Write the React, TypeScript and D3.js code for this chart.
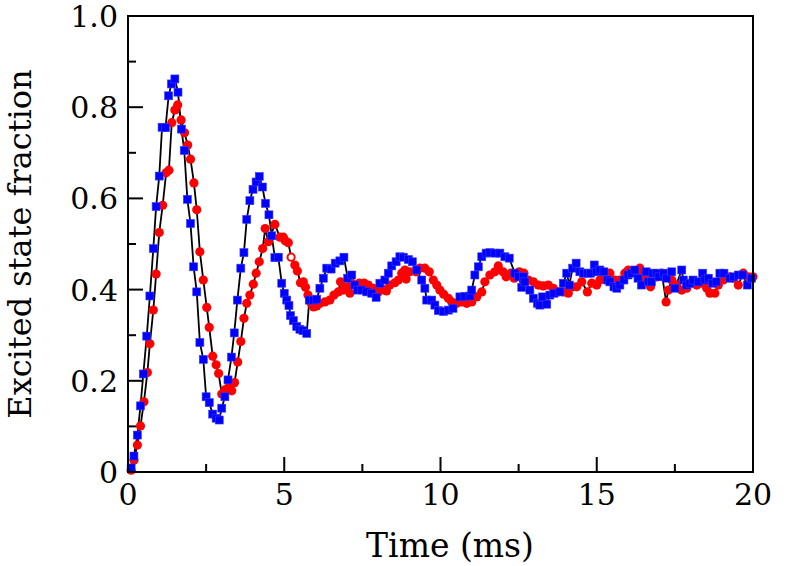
// @ts-nocheck
import * as d3 from "d3";

// blue squares: time (ms) and excited state fraction
const blueTime = [
  0.1, 0.19, 0.3, 0.4, 0.49, 0.6, 0.7, 0.81, 0.9, 1.0, 1.09, 1.2, 1.3, 1.39, 1.5, 1.6, 1.71, 1.8, 1.9, 2.0,
  2.1, 2.2, 2.3, 2.41, 2.5, 2.6, 2.71, 2.82, 2.92, 3.0, 3.1, 3.2, 3.31, 3.4, 3.5, 3.61, 3.71, 3.8, 3.9, 4.0,
  4.1, 4.2, 4.3, 4.4, 4.51, 4.6, 4.7, 4.81, 4.92, 5.0, 5.08, 5.15, 5.2, 5.29, 5.4, 5.5, 5.6, 5.72, 5.8, 5.93,
  6.04, 6.14, 6.25, 6.36, 6.5, 6.63, 6.78, 6.91, 7.03, 7.16, 7.26, 7.34, 7.48, 7.64, 7.8, 7.94, 8.06, 8.22, 8.33, 8.44,
  8.58, 8.7, 8.81, 8.97, 9.1, 9.24, 9.4, 9.5, 9.56, 9.72, 9.82, 9.93, 10.1, 10.25, 10.4, 10.62, 10.78, 10.94, 11.0, 11.1,
  11.21, 11.32, 11.46, 11.58, 11.74, 11.9, 12.06, 12.2, 12.38, 12.5, 12.6, 12.65, 12.7, 12.86, 12.97, 13.1, 13.18, 13.27, 13.4, 13.5,
  13.63, 13.82, 13.93, 14.04, 14.12, 14.23, 14.34, 14.46, 14.57, 14.7, 14.8, 14.92, 15.0, 15.1, 15.23, 15.34, 15.42, 15.55, 15.64, 15.74,
  15.87, 16.0, 16.11, 16.22, 16.32, 16.43, 16.58, 16.65, 16.75, 16.8, 16.92, 16.99, 17.13, 17.24, 17.4, 17.5, 17.72, 17.77, 17.87, 17.98,
  18.08, 18.25, 18.39, 18.46, 18.57, 18.71, 18.82, 18.94, 19.07, 19.26, 19.37, 19.53, 19.67, 19.82, 19.95,
];
const blueValue = [
  0.009, 0.035, 0.081, 0.145, 0.215, 0.298, 0.386, 0.49, 0.582, 0.649, 0.756, 0.755, 0.825, 0.851, 0.862, 0.833, 0.752, 0.705, 0.598, 0.545,
  0.45, 0.395, 0.284, 0.247, 0.165, 0.152, 0.127, 0.118, 0.114, 0.14, 0.165, 0.202, 0.252, 0.305, 0.377, 0.447, 0.481, 0.554, 0.595, 0.62,
  0.636, 0.648, 0.625, 0.589, 0.564, 0.518, 0.47, 0.471, 0.414, 0.392, 0.377, 0.365, 0.343, 0.332, 0.319, 0.313, 0.31, 0.304, 0.377, 0.377,
  0.379, 0.403, 0.425, 0.447, 0.445, 0.458, 0.463, 0.471, 0.425, 0.432, 0.41, 0.399, 0.399, 0.395, 0.392, 0.383, 0.414, 0.421, 0.436, 0.452,
  0.461, 0.472, 0.471, 0.466, 0.461, 0.443, 0.421, 0.403, 0.377, 0.377, 0.366, 0.354, 0.352, 0.355, 0.359, 0.384, 0.385, 0.386, 0.399, 0.432,
  0.45, 0.472, 0.48, 0.481, 0.48, 0.48, 0.472, 0.469, 0.436, 0.428, 0.405, 0.428, 0.417, 0.399, 0.381, 0.37, 0.366, 0.384, 0.368, 0.388,
  0.392, 0.395, 0.414, 0.436, 0.41, 0.447, 0.458, 0.439, 0.436, 0.436, 0.436, 0.454, 0.439, 0.443, 0.439, 0.421, 0.417, 0.406, 0.403, 0.41,
  0.421, 0.432, 0.436, 0.443, 0.425, 0.41, 0.439, 0.417, 0.417, 0.436, 0.436, 0.428, 0.436, 0.425, 0.439, 0.403, 0.443, 0.421, 0.41, 0.414,
  0.421, 0.417, 0.436, 0.421, 0.425, 0.414, 0.417, 0.436, 0.436, 0.425, 0.428, 0.432, 0.432, 0.41, 0.425,
];

// red circles
const redTime = [
  0.1, 0.19, 0.3, 0.4, 0.51, 0.62, 0.7, 0.81, 0.9, 1.0, 1.11, 1.22, 1.31, 1.4, 1.5, 1.59, 1.7, 1.81, 1.91, 2.0,
  2.11, 2.2, 2.3, 2.41, 2.52, 2.6, 2.71, 2.82, 2.9, 3.0, 3.1, 3.21, 3.32, 3.41, 3.51, 3.61, 3.71, 3.8, 3.9, 4.01,
  4.1, 4.2, 4.31, 4.39, 4.49, 4.7, 4.86, 4.97, 5.03, 5.13, 5.22, 5.34, 5.42, 5.52, 5.61, 5.68, 5.76, 5.86, 5.94, 6.04,
  6.14, 6.3, 6.46, 6.59, 6.73, 6.8, 6.89, 7.0, 7.1, 7.16, 7.26, 7.4, 7.56, 7.69, 7.85, 8.01, 8.17, 8.27, 8.38, 8.54,
  8.65, 8.76, 8.86, 8.9, 9.02, 9.21, 9.34, 9.5, 9.64, 9.77, 9.88, 9.98, 10.1, 10.25, 10.36, 10.52, 10.68, 10.84, 11.0, 11.16,
  11.32, 11.42, 11.58, 11.74, 11.85, 12.0, 12.1, 12.25, 12.36, 12.52, 12.67, 12.81, 12.97, 13.13, 13.29, 13.45, 13.61, 13.77, 13.93, 14.09,
  14.23, 14.36, 14.52, 14.7, 14.84, 15.0, 15.1, 15.26, 15.42, 15.58, 15.74, 15.9, 16.01, 16.15, 16.28, 16.38, 16.49, 16.65, 16.72, 16.92,
  17.08, 17.22, 17.29, 17.4, 17.56, 17.72, 17.88, 18.04, 18.2, 18.36, 18.52, 18.62, 18.78, 18.89, 19.05, 19.26, 19.37, 19.53, 19.69, 19.85,
  20.0,
];
const redValue = [
  0.004, 0.026, 0.059, 0.101, 0.154, 0.218, 0.281, 0.355, 0.434, 0.525, 0.585, 0.656, 0.662, 0.766, 0.794, 0.805, 0.772, 0.744, 0.717, 0.686,
  0.634, 0.575, 0.483, 0.421, 0.361, 0.317, 0.254, 0.235, 0.216, 0.171, 0.18, 0.185, 0.178, 0.196, 0.241, 0.286, 0.337, 0.37, 0.388, 0.412,
  0.436, 0.461, 0.49, 0.534, 0.505, 0.543, 0.515, 0.515, 0.507, 0.503, 0.471, 0.454, 0.441, 0.415, 0.417, 0.405, 0.388, 0.37, 0.362, 0.364,
  0.37, 0.373, 0.377, 0.388, 0.395, 0.417, 0.399, 0.406, 0.392, 0.414, 0.41, 0.414, 0.414, 0.41, 0.403, 0.395, 0.4, 0.397, 0.41, 0.415,
  0.421, 0.436, 0.443, 0.423, 0.439, 0.439, 0.447, 0.447, 0.439, 0.421, 0.41, 0.399, 0.39, 0.381, 0.373, 0.37, 0.373, 0.37, 0.373, 0.384,
  0.395, 0.417, 0.432, 0.439, 0.452, 0.439, 0.428, 0.436, 0.425, 0.439, 0.436, 0.421, 0.417, 0.41, 0.408, 0.41, 0.403, 0.395, 0.395, 0.392,
  0.406, 0.406, 0.417, 0.395, 0.414, 0.41, 0.421, 0.428, 0.436, 0.421, 0.421, 0.436, 0.443, 0.439, 0.436, 0.447, 0.428, 0.436, 0.406, 0.428,
  0.436, 0.373, 0.399, 0.421, 0.41, 0.399, 0.403, 0.414, 0.41, 0.414, 0.403, 0.392, 0.392, 0.41, 0.421, 0.428, 0.425, 0.41, 0.436, 0.428,
  0.428,
];
// the one red marker drawn open in the figure
const redOpenIndex = [50];

const xMajor = [0, 5, 10, 15, 20];
const xMinor = [2.5, 7.5, 12.5, 17.5];
const yMajor = [0, 0.2, 0.4, 0.6, 0.8, 1.0];
const yMinor = [0.1, 0.3, 0.5, 0.7, 0.9];
const yLabels = ["0", "0.2", "0.4", "0.6", "0.8", "1.0"];

export default function App() {
  const width = 800;
  const height = 566;
  const marginLeft = 128;
  const marginRight = 47;
  const marginTop = 16;
  const marginBottom = 94;
  const font = "'DejaVu Serif', serif";

  const x = d3.scaleLinear([0, 20], [marginLeft, width - marginRight]);
  const y = d3.scaleLinear([0, 1], [height - marginBottom, marginTop]);

  const blue = blueTime.map((t, i) => [t, blueValue[i]]);
  const red = redTime.map((t, i) => [t, redValue[i]]);

  const line = d3
    .line()
    .x((d) => x(d[0]))
    .y((d) => y(d[1]));

  const sq = 8;
  const x0 = x(0);
  const y0 = y(0);

  return (
    <svg
      width={width}
      height={height}
      style={{ position: "absolute", left: 0, top: 0, background: "white" }}
    >
      {/* connecting lines */}
      <path d={line(red)} fill="none" stroke="black" strokeWidth={1.8} />
      <path d={line(blue)} fill="none" stroke="black" strokeWidth={1.8} />

      <g>
        {red.map((d, i) => {
          const open = redOpenIndex.includes(i);
          return (
            <circle
              key={"r" + i}
              cx={x(d[0])}
              cy={y(d[1])}
              r={open ? 3.6 : 4.6}
              fill={open ? "white" : "#ff0000"}
              stroke={open ? "#ff0000" : "none"}
              strokeWidth={open ? 2 : 0}
            />
          );
        })}
      </g>
      <g>
        {blue.map((d, i) => (
          <rect
            key={"b" + i}
            x={x(d[0]) - sq / 2}
            y={y(d[1]) - sq / 2}
            width={sq}
            height={sq}
            fill="#0000ff"
            stroke="#3a3aff"
            strokeWidth={0.6}
          />
        ))}
      </g>

      {/* frame */}
      <rect
        x={x0}
        y={y(1)}
        width={x(20) - x0}
        height={y0 - y(1)}
        fill="none"
        stroke="black"
        strokeWidth={2}
      />

      {/* ticks, drawn inward */}
      <g stroke="black" strokeWidth={2}>
        {xMajor.map((v) => (
          <line key={"xM" + v} x1={x(v)} x2={x(v)} y1={y0} y2={y0 - 15} />
        ))}
        {xMinor.map((v) => (
          <line key={"xm" + v} x1={x(v)} x2={x(v)} y1={y0} y2={y0 - 8} />
        ))}
        {yMajor.map((v) => (
          <line key={"yM" + v} x1={x0} x2={x0 + 15} y1={y(v)} y2={y(v)} />
        ))}
        {yMinor.map((v) => (
          <line key={"ym" + v} x1={x0} x2={x0 + 8} y1={y(v)} y2={y(v)} />
        ))}
      </g>

      <g fontFamily={font} fontSize={30} fill="black">
        {xMajor.map((v) => (
          <text key={"xl" + v} x={x(v)} y={505} textAnchor="middle">
            {v}
          </text>
        ))}
        {yMajor.map((v, i) => (
          <text key={"yl" + v} x={118} y={y(v) + 11} textAnchor="end">
            {yLabels[i]}
          </text>
        ))}
      </g>

      <text
        x={450}
        y={557}
        textAnchor="middle"
        fontFamily={font}
        fontSize={33}
      >
        Time (ms)
      </text>
      <text
        transform={`translate(31,${(y0 + y(1)) / 2}) rotate(-90)`}
        textAnchor="middle"
        fontFamily={font}
        fontSize={32}
      >
        Excited state fraction
      </text>
    </svg>
  );
}
